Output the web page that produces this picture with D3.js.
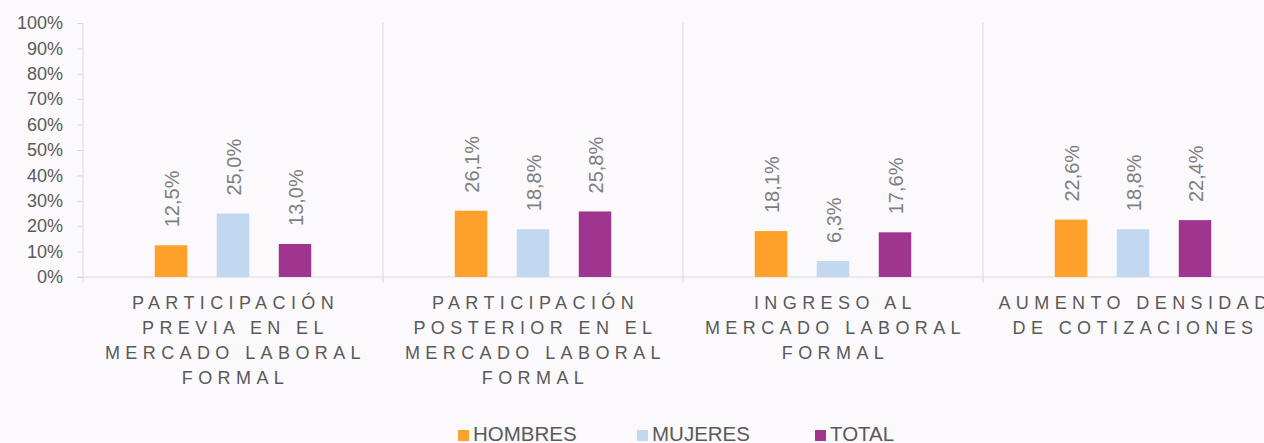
<!DOCTYPE html>
<html>
<head>
<meta charset="utf-8">
<script src="https://cdn.jsdelivr.net/npm/d3@7"></script>
<style>
  body { margin: 0; background: #fbf9fc; }
  svg { display: block; font-family: Arial, "Liberation Sans", sans-serif; }
</style>
</head>
<body>
<svg id="chart" width="1264" height="443"></svg>
<script>
// chart data
const categories = [
    ["PARTICIPACIÓN", "PREVIA EN EL", "MERCADO LABORAL", "FORMAL"],
    ["PARTICIPACIÓN", "POSTERIOR EN EL", "MERCADO LABORAL", "FORMAL"],
    ["INGRESO AL", "MERCADO LABORAL", "FORMAL"],
    ["AUMENTO DENSIDAD", "DE COTIZACIONES"]
];
const seriesNames = ["HOMBRES", "MUJERES", "TOTAL"];
const hombres = [0.125, 0.261, 0.181, 0.226];
const mujeres = [0.250, 0.188, 0.063, 0.188];
const total   = [0.130, 0.258, 0.176, 0.224];
const yTicks = [0, 0.1, 0.2, 0.3, 0.4, 0.5, 0.6, 0.7, 0.8, 0.9, 1];

const colors = ["#ffa12b", "#c2d8f0", "#a0358f"];
const seriesValues = [hombres, mujeres, total];

const svg = d3.select("#chart");
const gridColor = "#d9d9d9";

const x = d3.scaleBand()
    .domain(d3.range(categories.length))
    .range([83, 1283]);

const xs = d3.scaleBand()
    .domain(seriesNames)
    .range([-93, 93])
    .paddingInner(0.476)
    .paddingOuter(0.238);

const y = d3.scaleLinear().domain([0, 1]).range([277, 23]);

const loc = d3.formatLocale({decimal: ",", thousands: ".", grouping: [3], currency: ["", ""]});
const pct = loc.format(".1%");
const tickFmt = loc.format(".0%");

// y axis
const yAxis = svg.append("g")
    .attr("transform", "translate(83,0)")
    .call(d3.axisLeft(y).tickValues(yTicks).tickFormat(tickFmt).tickSize(6).tickPadding(14));
yAxis.select(".domain").attr("stroke", gridColor).attr("d", "M0,23V283");
yAxis.selectAll(".tick line").attr("stroke", gridColor);
yAxis.selectAll(".tick text")
    .attr("fill", "#595959")
    .style("font-size", "18px");

// x axis line + category separators
svg.append("line")
    .attr("x1", 77).attr("x2", 1264)
    .attr("y1", y(0)).attr("y2", y(0))
    .attr("stroke", gridColor);

svg.selectAll(".sep")
    .data(d3.range(1, categories.length))
    .enter()
    .append("line")
    .attr("class", "sep")
    .attr("x1", d => x(d)).attr("x2", d => x(d))
    .attr("y1", 23).attr("y2", 283)
    .attr("stroke", gridColor);

// bars
const bars = [];
seriesValues.forEach((vals, s) => {
    vals.forEach((v, c) => bars.push({c: c, s: s, v: v}));
});

const cx = d => x(d.c) + x.bandwidth() / 2 + xs(seriesNames[d.s]);

svg.selectAll(".bar")
    .data(bars)
    .enter()
    .append("rect")
    .attr("class", "bar")
    .attr("x", d => cx(d))
    .attr("width", xs.bandwidth())
    .attr("y", d => y(d.v))
    .attr("height", d => y(0) - y(d.v))
    .attr("fill", d => colors[d.s]);

// value labels (rotated)
svg.selectAll(".val")
    .data(bars)
    .enter()
    .append("text")
    .attr("class", "val")
    .attr("transform", d => `translate(${cx(d) + xs.bandwidth() / 2 + 7.5},${y(d.v) - 18}) rotate(-90)`)
    .attr("fill", "#7f7f7f")
    .style("font-size", "20px")
    .text(d => pct(d.v));

// category labels
categories.forEach((lines, c) => {
    const t = svg.append("text")
        .attr("text-anchor", "middle")
        .attr("fill", "#595959")
        .style("font-size", "18px")
        .style("letter-spacing", "5.4px");
    lines.forEach((line, i) => {
        t.append("tspan")
            .attr("x", x(c) + x.bandwidth() / 2 + 2.5)
            .attr("y", 309 + i * 25)
            .text(line);
    });
});

// legend
const legendX = [458, 637, 815];
const legend = svg.selectAll(".legend")
    .data(seriesNames)
    .enter()
    .append("g")
    .attr("class", "legend")
    .attr("transform", (d, i) => `translate(${legendX[i]},0)`);
legend.append("rect")
    .attr("y", 430).attr("width", 11).attr("height", 11)
    .attr("fill", (d, i) => colors[i]);
legend.append("text")
    .attr("x", 15).attr("y", 441)
    .attr("fill", "#595959")
    .style("font-size", "20.5px")
    .text(d => d);
</script>
</body>
</html>
